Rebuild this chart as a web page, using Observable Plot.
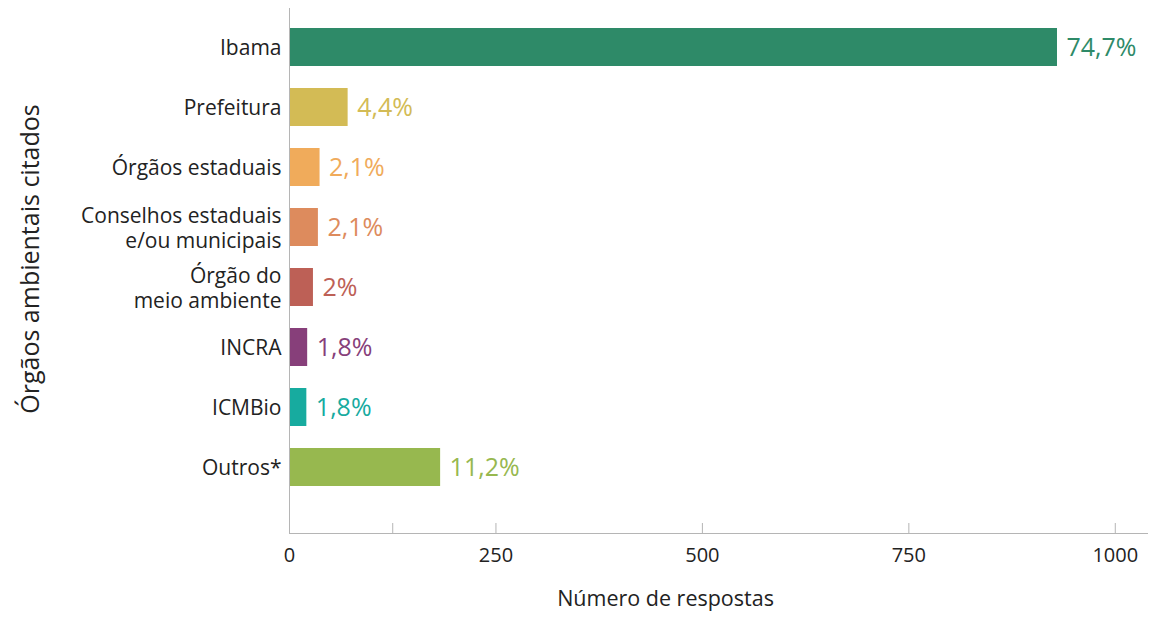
<!DOCTYPE html>
<html>
<head>
<meta charset="utf-8">
<script src="https://cdn.jsdelivr.net/npm/d3@7"></script>
<script src="https://cdn.jsdelivr.net/npm/@observablehq/plot@0.6"></script>
<style>
  html, body { margin: 0; padding: 0; background: #fff; }
  #chart { width: 1149px; height: 620px; }
</style>
</head>
<body>
<div id="chart"></div>
<script>
const categories = ["Ibama", "Prefeitura", "Órgãos estaduais", "Conselhos estaduais\ne/ou municipais", "Órgão do\nmeio ambiente", "INCRA", "ICMBio", "Outros*"];
const values = [930, 71, 37, 35, 29, 22, 21, 183];
const pctLabels = ["74,7%", "4,4%", "2,1%", "2,1%", "2%", "1,8%", "1,8%", "11,2%"];
const colors = ["#2e8a68", "#d3bb55", "#f0ab5b", "#dd8b5d", "#bd6056", "#873f7a", "#17ab9f", "#97b84f"];
const xTickLabels = [0, 250, 500, 750, 1000];
const xTickMarks = [125, 250, 500, 750, 1000];

const data = categories.map((c, i) => ({cat: c, value: values[i], pct: pctLabels[i], color: colors[i]}));
const font = "'Open Sans', sans-serif";

const chart = Plot.plot({
  width: 1149,
  height: 620,
  marginLeft: 289,
  marginRight: 2,
  marginTop: 8,
  marginBottom: 87,
  style: {fontFamily: font, background: "#fff", overflow: "visible"},
  x: {domain: [0, 1039], axis: null},
  y: {domain: categories, range: [17, 498], paddingInner: 0.36, paddingOuter: 0.18, axis: null},
  color: {type: "identity"},
  marks: [
    Plot.barX(data, {x: "value", y: "cat", fill: "color"}),
    Plot.frame({anchor: "left", stroke: "#b5b5b5"}),
    Plot.frame({anchor: "bottom", stroke: "#b5b5b5"}),
    Plot.tickX(xTickMarks, {x: d => d, insetTop: 515, stroke: "#b5b5b5"}),
    Plot.axisY({tickSize: 0, tickPadding: 8, fontSize: 21, lineHeight: 1.17, fill: "#222", label: null}),
    Plot.axisX(xTickLabels, {tickSize: 0, tickPadding: 14, fontSize: 20, fill: "#222", label: null, tickFormat: d => String(d)}),
    Plot.text(data, {x: "value", y: "cat", text: "pct", dx: 9, textAnchor: "start", fill: "color", fontSize: 25}),
    Plot.text(["Número de respostas"], {frameAnchor: "bottom", textAnchor: "middle", dx: -53, dy: 72, fontSize: 21.5, fill: "#222"}),
    Plot.text(["Órgãos ambientais citados"], {frameAnchor: "left", textAnchor: "middle", dx: -259, dy: -12, rotate: -90, fontSize: 25, fill: "#222"})
  ]
});
document.getElementById("chart").appendChild(chart);
</script>
</body>
</html>
